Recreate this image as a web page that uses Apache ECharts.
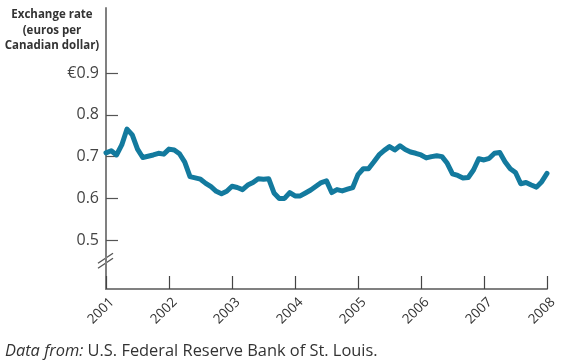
<!DOCTYPE html>
<html>
<head>
<meta charset="utf-8">
<script src="https://cdn.jsdelivr.net/npm/echarts@6/dist/echarts.min.js"></script>
<style>
html,body{margin:0;padding:0;background:#fff;}
#c{width:585px;height:361px;}
</style>
</head>
<body>
<div id="c"></div>
<script>
// Years shown on the x axis (monthly data, Jan 2001 .. Jan 2008)
var years = ['2001','2002','2003','2004','2005','2006','2007','2008'];
// Y tick labels
var yTicks = [0.5, 0.6, 0.7, 0.8, 0.9];
// Exchange rate, euros per Canadian dollar, monthly
var rates2001 = [0.709,0.714,0.704,0.728,0.766,0.752,0.718,0.698,0.701,0.704,0.708,0.706];
var rates2002 = [0.718,0.716,0.707,0.687,0.652,0.649,0.646,0.636,0.628,0.617,0.611,0.617];
var rates2003 = [0.629,0.626,0.621,0.632,0.638,0.647,0.646,0.647,0.613,0.600,0.600,0.614];
var rates2004 = [0.606,0.606,0.613,0.620,0.629,0.638,0.642,0.614,0.621,0.618,0.622,0.626];
var rates2005 = [0.657,0.671,0.671,0.687,0.704,0.715,0.724,0.716,0.726,0.717,0.711,0.708];
var rates2006 = [0.704,0.697,0.700,0.702,0.700,0.684,0.659,0.655,0.649,0.650,0.668,0.695];
var rates2007 = [0.692,0.696,0.708,0.710,0.688,0.671,0.662,0.635,0.638,0.632,0.627,0.640];
var rates2008 = [0.660];

var rates = [].concat(rates2001,rates2002,rates2003,rates2004,rates2005,rates2006,rates2007,rates2008);
var months = [];
for (var i = 0; i < rates.length; i++) {
  months.push(years[Math.floor(i / 12)] + '-' + (i % 12 + 1));
}

var chart = echarts.init(document.getElementById('c'), null, {renderer: 'canvas'});
var font = '"Open Sans", "Noto Sans", sans-serif';
chart.setOption({
  animation: false,
  grid: {left: 106, right: 38, top: 8, bottom: 72, containLabel: false},
  xAxis: {
    type: 'category',
    data: months,
    boundaryGap: false,
    axisLine: {show: true, lineStyle: {color: '#808080', width: 2}},
    axisTick: {show: true, inside: true, length: 13, interval: 11, lineStyle: {color: '#444', width: 1.2}},
    axisLabel: {
      show: true, interval: 11, rotate: 45, margin: 17, align: 'center', verticalAlign: 'middle',
      padding: [0, 14, 0, 0],
      fontFamily: font, fontSize: 13.5, color: '#333',
      formatter: function (v) { return v.split('-')[0]; }
    },
    splitLine: {show: false}
  },
  yAxis: {
    type: 'value',
    min: 0.383, max: 1.056,
    axisLine: {show: true, lineStyle: {color: '#808080', width: 2}},
    axisTick: {show: true, inside: true, length: 12, customValues: yTicks, lineStyle: {color: '#555', width: 1.2}},
    axisLabel: {
      show: true, customValues: yTicks, margin: 7,
      fontFamily: font, fontSize: 16, color: '#444',
      formatter: function (v) { return (Math.abs(v - 0.9) < 1e-6 ? '€' : '') + v.toFixed(1); }
    },
    splitLine: {show: false}
  },
  series: [{
    type: 'line',
    data: rates,
    symbol: 'none',
    smooth: false,
    lineStyle: {color: '#137a9e', width: 5, join: 'round', cap: 'round'}
  }]
});

// axis break mark on the y axis
var bx = chart.convertToPixel({xAxisIndex: 0}, months[0]);
var by = chart.convertToPixel({yAxisIndex: 0}, 0.452);
chart.setOption({
  graphic: [
    {
      id: 'ytitle', type: 'text', x: 52, y: 7,
      style: {
        text: 'Exchange rate\n(euros per\nCanadian dollar)',
        fontFamily: font, fontWeight: 'bold', fontSize: 11.5, fill: '#333',
        align: 'center', verticalAlign: 'top', lineHeight: 15.5
      }
    },
    {
      id: 'src', type: 'text', x: 5, y: 351,
      style: {
        rich: {
          i: {fontFamily: font, fontStyle: 'italic', fontWeight: 'normal', fontSize: 16.4, fill: '#333'},
          n: {fontFamily: font, fontStyle: 'normal', fontWeight: 'normal', fontSize: 16.4, fill: '#333'}
        },
        text: '{i|Data from:} {n|U.S. Federal Reserve Bank of St. Louis.}',
        fontFamily: font, fontWeight: 'normal', fontSize: 16.4,
        verticalAlign: 'middle'
      }
    },
    {id: 'b1', type: 'line', shape: {x1: bx - 8, y1: by + 3, x2: bx + 7, y2: by - 7}, style: {stroke: '#555', lineWidth: 1.3}},
    {id: 'b2', type: 'line', shape: {x1: bx - 8, y1: by + 8, x2: bx + 7, y2: by - 2}, style: {stroke: '#555', lineWidth: 1.3}}
  ]
});
</script>
</body>
</html>
